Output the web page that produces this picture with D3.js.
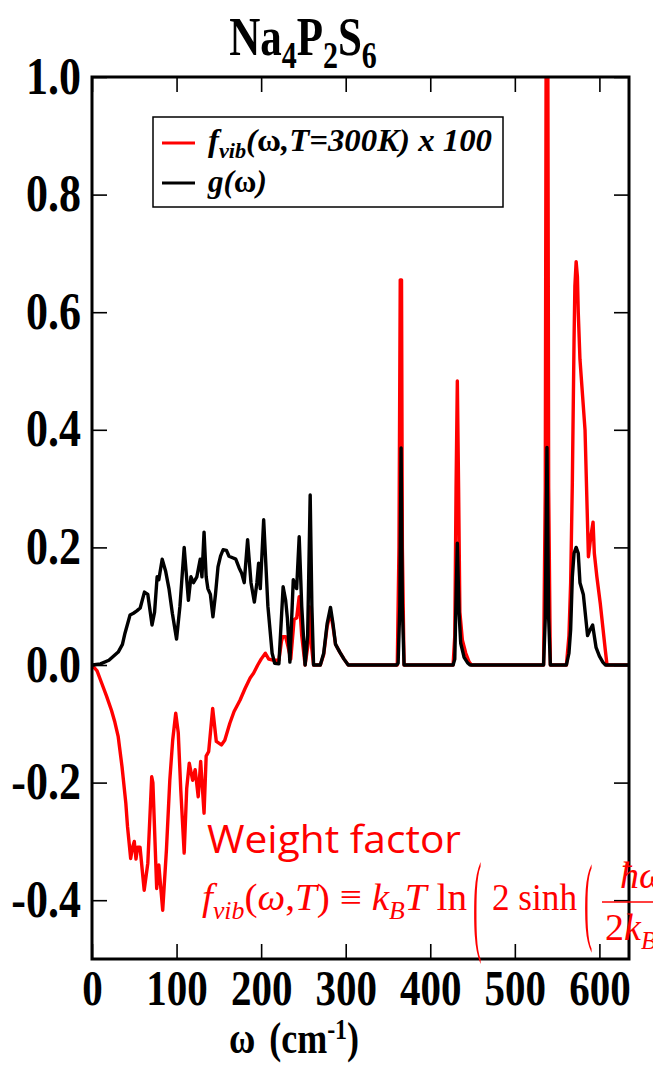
<!DOCTYPE html>
<html>
<head>
<meta charset="utf-8">
<script src="https://cdn.jsdelivr.net/npm/d3@7"></script>
<style>
  body { margin: 0; background: #fff; }
  svg { display: block; }
</style>
</head>
<body>
<div id="chart"></div>
<script>
// g(omega) : phonon density of states (black)
const gOmega = [0, 10, 20, 31, 36, 39, 45, 49, 53, 57, 62, 66, 71, 74, 77, 79, 83, 87, 91, 95, 100, 104, 109, 114, 117, 120, 124, 128, 130, 132.5, 135, 137, 140, 143, 146, 149, 152, 155, 159, 162, 167, 170, 174, 177, 180, 184, 188, 192, 195, 197, 199, 203, 208, 213, 216, 221, 226, 229, 231, 234, 238, 242, 245, 248, 252, 255, 258, 260, 262, 270, 274, 278, 282, 285, 288, 293, 298, 303, 360, 362, 364, 365.5, 367, 369, 427, 429, 430, 432, 434, 436, 440, 444, 447, 534, 536, 538, 540, 542, 561, 564, 566, 568, 570, 572.5, 575, 577, 581, 586, 589, 592, 596, 600, 604, 607, 635];
const gValue = [0, 0.002, 0.008, 0.022, 0.035, 0.054, 0.085, 0.088, 0.092, 0.097, 0.124, 0.12, 0.068, 0.09, 0.15, 0.145, 0.18, 0.16, 0.13, 0.088, 0.044, 0.1, 0.2, 0.11, 0.15, 0.14, 0.15, 0.18, 0.15, 0.226, 0.15, 0.13, 0.12, 0.082, 0.12, 0.167, 0.185, 0.196, 0.195, 0.185, 0.182, 0.18, 0.165, 0.156, 0.14, 0.213, 0.14, 0.107, 0.14, 0.173, 0.13, 0.247, 0.1, 0.02, 0.003, 0.002, 0.133, 0.11, 0.08, 0.005, 0.145, 0.13, 0.218, 0.1, 0, 0.05, 0.289, 0.1, 0, 0, 0.02, 0.07, 0.098, 0.07, 0.035, 0.022, 0.01, 0, 0, 0.003, 0.1, 0.369, 0.1, 0, 0, 0.01, 0.08, 0.207, 0.09, 0.037, 0.013, 0.004, 0, 0, 0.08, 0.37, 0.08, 0, 0, 0.02, 0.06, 0.15, 0.19, 0.2, 0.19, 0.14, 0.12, 0.05, 0.06, 0.068, 0.03, 0.015, 0.005, 0, 0];

// f_vib(omega, T=300K) x 100 (red)
const fOmega = [0, 6, 11.5, 17, 23, 27, 31, 35.5, 40, 42, 45.7, 48, 50, 52, 54, 56.8, 61.7, 66, 70.6, 72, 76.5, 79, 83.6, 88, 92, 95.4, 99, 102, 105, 109, 112, 115, 119, 122, 125.6, 128.5, 132.5, 135, 138, 142.7, 147, 153, 157, 163, 168, 175, 181, 187, 191, 196, 200, 205, 209, 215, 221, 224, 225.5, 229, 232, 235, 239, 242, 245, 248, 252, 255, 257, 259, 262, 270, 274, 278, 282, 285, 288, 293, 298, 303, 361, 363, 364.5, 366, 367, 369, 427, 429, 430.5, 432, 433.5, 435, 438, 442, 446, 449, 534, 536, 537, 539, 540, 542, 561, 564, 566, 568, 570, 571, 572.5, 574, 575, 577, 583, 587, 590, 592.5, 594, 597, 601, 607, 609, 635];
const fValue = [0, -0.01, -0.031, -0.052, -0.077, -0.097, -0.122, -0.173, -0.235, -0.275, -0.329, -0.31, -0.3, -0.33, -0.31, -0.31, -0.383, -0.337, -0.19, -0.2, -0.38, -0.34, -0.417, -0.315, -0.196, -0.128, -0.082, -0.115, -0.213, -0.32, -0.21, -0.167, -0.196, -0.178, -0.224, -0.164, -0.252, -0.155, -0.147, -0.074, -0.13, -0.136, -0.128, -0.099, -0.079, -0.06, -0.04, -0.022, -0.014, 0, 0.01, 0.02, 0.01, 0.008, 0.008, 0.04, 0.048, 0.048, 0.03, 0.01, 0.077, 0.08, 0.116, 0.05, 0, 0.03, 0.099, 0.04, 0, 0, 0.018, 0.065, 0.09, 0.065, 0.035, 0.022, 0.01, 0, 0, 0.2, 0.655, 0.655, 0.2, 0, 0, 0.05, 0.3, 0.483, 0.3, 0.09, 0.042, 0.02, 0.005, 0, 0, 0.3, 1.05, 1.05, 0.3, 0, 0, 0.05, 0.14, 0.31, 0.55, 0.644, 0.686, 0.66, 0.6, 0.52, 0.4, 0.184, 0.22, 0.243, 0.19, 0.15, 0.105, 0.025, 0, 0];

const xTickValues = [0, 100, 200, 300, 400, 500, 600];
const yTickValues = [-0.4, -0.2, 0, 0.2, 0.4, 0.6, 0.8, 1.0];

const W = 653, H = 1067;
const margin = { top: 77, right: 24, bottom: 108, left: 92 };
const width = W - margin.left - margin.right,
      height = H - margin.top - margin.bottom;

const serif = "'Liberation Serif', 'Times New Roman', serif";
const red = "#ff0000";

const svg = d3.select("#chart").append("svg")
    .attr("width", W)
    .attr("height", H);

const x = d3.scaleLinear().domain([0, 635]).range([margin.left, margin.left + width]);
const y = d3.scaleLinear().domain([-0.5, 1.0]).range([margin.top + height, margin.top]);

svg.append("clipPath").attr("id", "plotclip")
  .append("rect")
    .attr("x", margin.left).attr("y", margin.top)
    .attr("width", width).attr("height", height);

// curves
const line = d3.line().x(d => x(d[0])).y(d => y(d[1]));
const fData = fOmega.map((w, i) => [w, fValue[i]]);
const gData = gOmega.map((w, i) => [w, gValue[i]]);

const curves = svg.append("g").attr("clip-path", "url(#plotclip)");
curves.append("path").datum(fData)
    .attr("d", line).attr("fill", "none")
    .attr("stroke", red).attr("stroke-width", 3.4).attr("stroke-linejoin", "round");
curves.append("path").datum(gData)
    .attr("d", line).attr("fill", "none")
    .attr("stroke", "#000").attr("stroke-width", 3.4).attr("stroke-linejoin", "round");

// axes (ticks pointing inward)
const tick = 15;
const axB = svg.append("g").attr("transform", `translate(0,${margin.top + height})`)
    .call(d3.axisBottom(x).tickValues(xTickValues).tickSize(-tick).tickFormat(d => d));
const axT = svg.append("g").attr("transform", `translate(0,${margin.top})`)
    .call(d3.axisTop(x).tickValues(xTickValues).tickSize(-tick).tickFormat(""));
const axL = svg.append("g").attr("transform", `translate(${margin.left},0)`)
    .call(d3.axisLeft(y).tickValues(yTickValues).tickSize(-tick).tickFormat(d => d.toFixed(1)));
const axR = svg.append("g").attr("transform", `translate(${margin.left + width},0)`)
    .call(d3.axisRight(y).tickValues(yTickValues).tickSize(-tick).tickFormat(""));

[axB, axT, axL, axR].forEach(a => {
  a.select(".domain").remove();
  a.selectAll(".tick line").attr("stroke", "#000").attr("stroke-width", 1.6);
});

axB.selectAll(".tick text")
    .attr("y", null).attr("dy", null)
    .attr("transform", "translate(0,46) scale(1,1.22)")
    .attr("text-anchor", "middle")
    .style("font-family", serif).style("font-weight", "bold").style("font-size", "41px")
    .attr("fill", "#000");

axL.selectAll(".tick text")
    .attr("x", null).attr("dy", null)
    .attr("transform", "translate(-11,16) scale(1,1.18)")
    .attr("text-anchor", "end")
    .style("font-family", serif).style("font-weight", "bold").style("font-size", "44px")
    .attr("fill", "#000");

// frame
svg.append("rect")
    .attr("x", margin.left).attr("y", margin.top)
    .attr("width", width).attr("height", height)
    .attr("fill", "none").attr("stroke", "#000").attr("stroke-width", 3);

// title
const title = svg.append("text")
    .attr("transform", "translate(303,55) scale(1,1.28)")
    .attr("text-anchor", "middle")
    .style("font-family", serif).style("font-weight", "bold").style("font-size", "43px");
title.append("tspan").text("Na");
title.append("tspan").attr("dy", 10).style("font-size", "30px").text("4");
title.append("tspan").attr("dy", -10).text("P");
title.append("tspan").attr("dy", 10).style("font-size", "30px").text("2");
title.append("tspan").attr("dy", -10).text("S");
title.append("tspan").attr("dy", 10).style("font-size", "30px").text("6");

// x-axis label
const xl = svg.append("text")
    .attr("transform", "translate(294,1053) scale(1,1.25)")
    .attr("text-anchor", "middle")
    .style("font-family", serif).style("font-weight", "bold").style("font-size", "36px");
xl.append("tspan").text("ω");
xl.append("tspan").attr("dx", 14).text("(cm");
xl.append("tspan").attr("dy", -11).style("font-size", "24px").text("-1");
xl.append("tspan").attr("dy", 11).text(")");

// legend
const lg = svg.append("g");
lg.append("rect").attr("x", 153).attr("y", 117).attr("width", 350).attr("height", 90)
    .attr("fill", "#fff").attr("stroke", "#000").attr("stroke-width", 1.5);
lg.append("line").attr("x1", 162).attr("x2", 195).attr("y1", 143).attr("y2", 143)
    .attr("stroke", red).attr("stroke-width", 3);
lg.append("line").attr("x1", 162).attr("x2", 195).attr("y1", 183).attr("y2", 183)
    .attr("stroke", "#000").attr("stroke-width", 3);
const lt1 = lg.append("text").attr("x", 208).attr("y", 151)
    .attr("textLength", 284).attr("lengthAdjust", "spacingAndGlyphs")
    .style("font-family", serif).style("font-weight", "bold").style("font-style", "italic").style("font-size", "31px");
lt1.append("tspan").text("f");
lt1.append("tspan").attr("dy", 7).style("font-size", "21px").text("vib");
lt1.append("tspan").attr("dy", -7).text("(");
lt1.append("tspan").style("font-style", "normal").text("ω");
lt1.append("tspan").text(",T=300K) x 100");
const lt2 = lg.append("text").attr("x", 208).attr("y", 192)
    .style("font-family", serif).style("font-weight", "bold").style("font-style", "italic").style("font-size", "31px");
lt2.append("tspan").text("g(");
lt2.append("tspan").style("font-style", "normal").text("ω");
lt2.append("tspan").text(")");

// annotation
svg.append("text").attr("x", 207).attr("y", 853)
    .attr("fill", red)
    .style("font-family", "'Open Sans', 'Noto Sans', sans-serif").style("font-size", "38px")
    .attr("textLength", 254).attr("lengthAdjust", "spacingAndGlyphs")
    .text("Weight factor");

const eq = svg.append("g").attr("fill", red)
    .style("font-family", serif).style("font-size", "38px");
const e1 = eq.append("text").attr("x", 202).attr("y", 910)
    .attr("textLength", 265).attr("lengthAdjust", "spacingAndGlyphs");
e1.append("tspan").style("font-style", "italic").text("f");
e1.append("tspan").attr("dy", 9).style("font-style", "italic").style("font-size", "25px").text("vib");
e1.append("tspan").attr("dy", -9).text("(");
e1.append("tspan").style("font-style", "italic").text("ω");
e1.append("tspan").text(",");
e1.append("tspan").style("font-style", "italic").text("T");
e1.append("tspan").text(") ≡ ");
e1.append("tspan").style("font-style", "italic").text("k");
e1.append("tspan").attr("dy", 9).style("font-style", "italic").style("font-size", "25px").text("B");
e1.append("tspan").attr("dy", -9).style("font-style", "italic").text("T");
e1.append("tspan").text(" ln");
// big parentheses
eq.append("text").attr("transform", "translate(473,940) scale(0.7,3.1)")
    .style("font-size", "36px").text("(");
eq.append("text").attr("x", 492).attr("y", 910)
    .attr("textLength", 85).attr("lengthAdjust", "spacingAndGlyphs").text("2 sinh");
eq.append("text").attr("transform", "translate(584,932) scale(0.7,2.7)")
    .style("font-size", "36px").text("(");
eq.append("line").attr("x1", 602).attr("x2", 660).attr("y1", 902).attr("y2", 902)
    .attr("stroke", red).attr("stroke-width", 1.5);
eq.append("text").attr("x", 620).attr("y", 888).style("font-style", "italic").text("ħω");
const e2 = eq.append("text").attr("x", 605).attr("y", 940);
e2.append("tspan").text("2");
e2.append("tspan").style("font-style", "italic").text("k");
e2.append("tspan").attr("dy", 9).style("font-style", "italic").style("font-size", "25px").text("B");
e2.append("tspan").attr("dy", -9).style("font-style", "italic").text("T");
</script>
</body>
</html>
